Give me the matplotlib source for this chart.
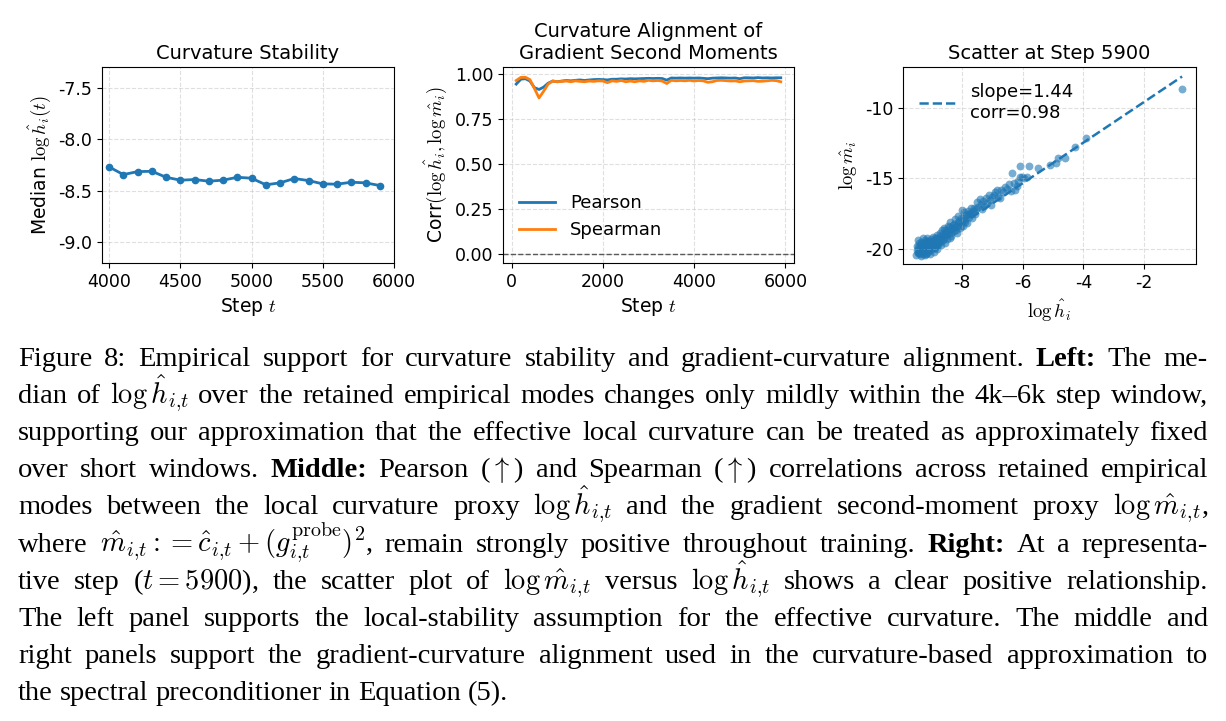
import matplotlib
matplotlib.use("Agg")
import matplotlib.pyplot as plt
import numpy as np

plt.rcParams["axes.unicode_minus"] = False
plt.rcParams["mathtext.fontset"] = "cm"
plt.rcParams["font.size"] = 13.5
plt.rcParams["xtick.labelsize"] = 12.5
plt.rcParams["ytick.labelsize"] = 12.5
plt.rcParams["legend.fontsize"] = 13

# left panel: median log curvature
steps_left = [4000, 4100, 4200, 4300, 4400, 4500, 4600, 4700, 4800, 4900,
              5000, 5100, 5200, 5300, 5400, 5500, 5600, 5700, 5800, 5900]
median_logh = [-8.269, -8.343, -8.314, -8.311, -8.369, -8.397, -8.391, -8.407, -8.397, -8.369,
               -8.378, -8.442, -8.423, -8.381, -8.401, -8.433, -8.436, -8.417, -8.423, -8.449]

# middle panel: correlations over training
steps_mid = list(range(100, 6000, 100))
pearson = [0.945, 0.972, 0.975, 0.962, 0.925, 0.915, 0.928, 0.950, 0.962, 0.958,
           0.962, 0.965, 0.963, 0.966, 0.968, 0.965, 0.968, 0.970, 0.971, 0.970,
           0.968, 0.972, 0.972, 0.974, 0.973, 0.975, 0.974, 0.975, 0.976, 0.977,
           0.976, 0.977, 0.976, 0.967, 0.979, 0.978, 0.979, 0.978, 0.979, 0.978,
           0.979, 0.977, 0.975, 0.978, 0.979, 0.980, 0.979, 0.978, 0.979, 0.975,
           0.980, 0.980, 0.979, 0.981, 0.979, 0.980, 0.979, 0.980, 0.980]
spearman = [0.965, 0.982, 0.983, 0.970, 0.920, 0.868, 0.905, 0.945, 0.962, 0.958,
            0.960, 0.962, 0.958, 0.963, 0.960, 0.958, 0.962, 0.960, 0.963, 0.962,
            0.953, 0.963, 0.960, 0.965, 0.958, 0.962, 0.958, 0.963, 0.960, 0.966,
            0.963, 0.965, 0.962, 0.948, 0.966, 0.963, 0.965, 0.963, 0.966, 0.962,
            0.965, 0.963, 0.955, 0.958, 0.965, 0.966, 0.964, 0.962, 0.963, 0.958,
            0.962, 0.963, 0.964, 0.960, 0.961, 0.963, 0.966, 0.964, 0.958]

# right panel: scatter at step 5900
log_h = [-9.52, -9.50, -9.48, -9.46, -9.45, -9.43, -9.42, -9.40, -9.38, -9.36,
         -9.35, -9.33, -9.31, -9.30, -9.28, -9.27, -9.25, -9.23, -9.22, -9.20,
         -9.18, -9.17, -9.15, -9.13, -9.12, -9.10, -9.08, -9.07, -9.05, -9.03,
         -9.02, -9.00, -8.98, -8.97, -8.95, -8.93, -8.92, -8.90, -8.88, -8.86,
         -8.85, -8.83, -8.82, -8.80, -8.78,
         -8.75, -8.72, -8.70, -8.68, -8.66, -8.63, -8.60, -8.58, -8.55, -8.54,
         -8.50, -8.47, -8.44, -8.40, -8.39, -8.38, -8.35, -8.31, -8.28, -8.25,
         -8.22, -8.18, -8.15, -8.12, -8.08, -8.05, -8.02, -8.00, -7.98, -7.95,
         -7.92, -7.88, -7.85, -7.82, -7.78, -7.75, -7.71, -7.68, -7.65, -7.62,
         -7.55, -7.50, -7.47, -7.42, -7.38, -7.35, -7.30, -7.27, -7.22, -7.18,
         -7.12, -7.08, -7.04, -7.00, -6.96, -6.92, -6.85, -6.80, -6.74, -6.70,
         -6.64, -6.60, -6.52, -6.45, -6.40, -6.34, -6.30, -6.24, -6.19, -6.15,
         -6.10, -6.08, -6.02, -5.95, -5.85, -5.78, -5.50, -5.09, -4.89, -4.84,
         -4.59, -4.26, -3.91, -0.74,
         -9.47, -9.44, -9.41, -9.37, -9.34, -9.29, -9.26, -9.21, -9.19, -9.16,
         -9.11, -9.09, -9.06, -9.01, -8.99, -8.94, -8.91, -8.87, -8.84, -8.79,
         -8.73, -8.69, -8.64, -8.61, -8.56, -8.52, -8.46, -8.42, -8.36, -8.33,
         -8.27, -8.21, -8.16, -8.10, -8.04, -7.96, -7.90, -7.80, -7.70, -7.58]
log_m = [-20.45, -20.10, -19.80, -20.30, -19.35, -19.60, -20.00, -20.40, -19.90, -20.50,
         -19.50, -20.20, -19.70, -19.25, -20.35, -19.95, -19.60, -20.45, -19.40, -20.10,
         -19.75, -19.20, -20.30, -19.55, -19.90, -20.15, -19.45, -20.40, -19.85, -19.30,
         -19.70, -20.05, -19.45, -19.15, -19.85, -20.25, -19.55, -19.20, -19.95, -19.60,
         -19.35, -20.05, -19.05, -19.45, -19.75,
         -19.50, -18.90, -19.25, -19.70, -18.70, -19.40, -18.50, -19.05, -19.60, -18.80,
         -19.30, -18.40, -18.90, -18.10, -19.25, -18.60, -19.10, -18.30, -18.75, -17.90,
         -18.45, -18.90, -18.10, -17.70, -18.50, -18.20, -17.80, -17.24, -18.35, -17.40,
         -17.95, -17.60, -18.15, -17.30, -17.75, -17.50, -17.10, -17.85, -17.30, -17.10,
         -17.20, -16.70, -17.00, -16.50, -16.85, -17.20, -16.60, -16.95, -16.40, -16.75,
         -16.20, -16.55, -16.90, -16.30, -16.18, -16.00, -15.82, -16.35, -16.41, -15.80,
         -15.94, -15.60, -15.75, -15.40, -15.90, -14.60, -15.35, -15.82, -15.54, -15.20,
         -14.88, -14.13, -14.93, -15.00, -14.88, -14.13, -14.29, -14.05, -13.94, -13.58,
         -13.58, -12.80, -12.17, -8.66,
         -20.20, -19.90, -20.25, -19.65, -20.05, -19.85, -20.15, -19.80, -20.40, -19.45,
         -19.80, -20.00, -19.60, -19.90, -19.55, -19.75, -19.40, -19.80, -19.25, -19.60,
         -19.10, -19.45, -18.95, -19.20, -18.65, -19.00, -18.70, -18.45, -18.85, -18.50,
         -18.25, -18.65, -18.35, -18.00, -18.40, -17.85, -18.10, -17.55, -17.45, -17.50]
fit_slope = 1.44
fit_intercept = -6.71
fit_corr = 0.98

caption = [
    "Figure 8: Empirical support for curvature stability and gradient-curvature alignment. **Left:** The me-",
    r"dian of $\log\hat{h}_{i{,}t}$ over the retained empirical modes changes only mildly within the 4k–6k step window,",
    "supporting our approximation that the effective local curvature can be treated as approximately fixed",
    r"over short windows. **Middle:** Pearson ($\uparrow$) and Spearman ($\uparrow$) correlations across retained empirical",
    r"modes between the local curvature proxy $\log\hat{h}_{i{,}t}$ and the gradient second-moment proxy $\log\hat{m}_{i{,}t}$,",
    r"where $\hat{m}_{i{,}t}{:}{=}\hat{c}_{i{,}t}+(g_{i{,}t}^{\mathrm{probe}})^2$, remain strongly positive throughout training. **Right:** At a representa-",
    r"tive step ($t=5900$), the scatter plot of $\log\hat{m}_{i{,}t}$ versus $\log\hat{h}_{i{,}t}$ shows a clear positive relationship.",
    "The left panel supports the local-stability assumption for the effective curvature. The middle and",
    "right panels support the gradient-curvature alignment used in the curvature-based approximation to",
    "the spectral preconditioner in Equation (5).",
]

W, H = 1226, 721
fig = plt.figure(figsize=(W / 100, H / 100), dpi=100)

ax1 = fig.add_axes([102 / W, 1 - 263 / H, 292 / W, 196 / H])
ax2 = fig.add_axes([503 / W, 1 - 263 / H, 291 / W, 196 / H])
ax3 = fig.add_axes([903 / W, 1 - 264 / H, 293 / W, 197 / H])

for ax in (ax1, ax2, ax3):
    ax.grid(True, linestyle="--", alpha=0.4)

ax1.plot(steps_left, median_logh, "o-", color="C0", lw=2, ms=4.5)
ax1.set_xlim(3950, 6000)
ax1.set_ylim(-9.2, -7.3)
ax1.set_xticks([4000, 4500, 5000, 5500, 6000])
ax1.set_yticks([-9.0, -8.5, -8.0, -7.5])
ax1.set_title("Curvature Stability", fontsize=14)
ax1.set_xlabel("Step $t$")
ax1.set_ylabel(r"Median $\log\hat{h}_i(t)$")

ax2.plot(steps_mid, pearson, color="C0", lw=2, label="Pearson")
ax2.plot(steps_mid, spearman, color="C1", lw=2, label="Spearman")
ax2.axhline(0, color="0.35", ls="--", lw=1)
ax2.set_ylim(-0.05, 1.04)
ax2.set_xticks([0, 2000, 4000, 6000])
ax2.set_yticks([0.0, 0.25, 0.5, 0.75, 1.0])
ax2.set_title("Curvature Alignment of\nGradient Second Moments", fontsize=14)
ax2.set_xlabel("Step $t$")
ax2.set_ylabel(r"Corr$(\log\hat{h}_i,\log\hat{m}_i)$")
ax2.legend(loc="lower left", frameon=False, bbox_to_anchor=(0.0, 0.04))

ax3.scatter(log_h, log_m, s=32, alpha=0.6, color="C0", linewidths=0)
xx = np.array([min(log_h), max(log_h)])
ax3.plot(xx, fit_slope * xx + fit_intercept, "--", color="C0", lw=1.8,
         label=f"slope={fit_slope:.2f}\ncorr={fit_corr:.2f}")
ax3.set_xlim(-9.95, -0.28)
ax3.set_ylim(-21.08, -7.1)
ax3.set_xticks([-8, -6, -4, -2])
ax3.set_yticks([-20, -15, -10])
ax3.set_title("Scatter at Step 5900", fontsize=14)
ax3.set_xlabel(r"$\log\hat{h}_i$")
ax3.set_ylabel(r"$\log\hat{m}_i$")
ax3.legend(loc="upper left", frameon=False)

# justified caption, word by word
cap_fs = 20.5
left_px, right_px = 18, 1208
baselines = [366, 403, 440, 477, 514, 552, 589, 626, 663, 700]
renderer = fig.canvas.get_renderer()
for k, line in enumerate(caption):
    texts = []
    for w in line.split(" "):
        bold = w.startswith("**")
        t = fig.text(0, 1 - baselines[k] / H, w.replace("**", ""), fontsize=cap_fs,
                     family="Liberation Serif", weight="bold" if bold else "normal",
                     va="baseline", ha="left")
        texts.append(t)
    widths = [t.get_window_extent(renderer).width for t in texts]
    if k < len(caption) - 1:
        gap = (right_px - left_px - sum(widths)) / (len(texts) - 1)
    else:
        gap = 0.25 * cap_fs * 100 / 72
    x = left_px
    for t, wd in zip(texts, widths):
        t.set_x(x / W)
        x += wd + gap

fig.savefig("out.png", dpi=100)
